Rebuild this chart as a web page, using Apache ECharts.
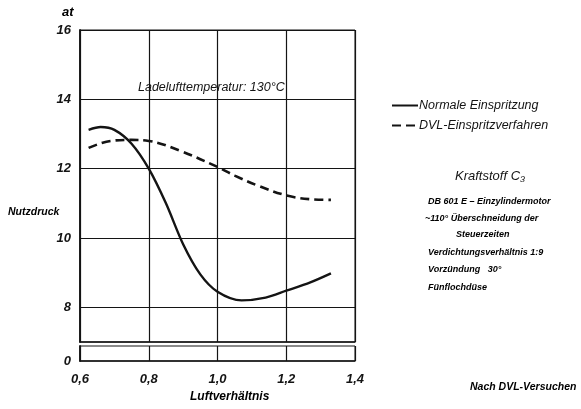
<!DOCTYPE html>
<html>
<head>
<meta charset="utf-8">
<script src="https://cdn.jsdelivr.net/npm/echarts@6/dist/echarts.min.js"></script>
<style>html,body{margin:0;padding:0;background:#fff;}#c{width:581px;height:409px;}</style>
</head>
<body>
<div id="c"></div>
<script>
// Data
const normalX = [0.625, 0.66, 0.70, 0.75, 0.80, 0.85, 0.90, 0.95, 1.00, 1.07, 1.14, 1.20, 1.27, 1.33];
const normalY = [13.12, 13.2, 13.12, 12.72, 12.0, 11.0, 9.82, 8.95, 8.45, 8.2, 8.28, 8.48, 8.72, 8.98];
const dvlX = [0.625, 0.69, 0.75, 0.80, 0.89, 1.00, 1.05, 1.12, 1.20, 1.27, 1.33];
const dvlY = [12.6, 12.8, 12.83, 12.8, 12.52, 12.05, 11.8, 11.5, 11.23, 11.12, 11.1];
const xTicks = [0.6, 0.8, 1.0, 1.2, 1.4];
const yTicks = [8, 10, 12, 14, 16];
const seriesNames = ['Normale Einspritzung', 'DVL-Einspritzverfahren'];

const FONT = 'Liberation Sans';
const ink = '#141414';
const lbl = {fontFamily: FONT, fontStyle: 'italic', fontWeight: 'bold', color: ink};

const chart = echarts.init(document.getElementById('c'));
const pairs = (xs, ys) => xs.map((x, i) => [x, ys[i]]);

chart.setOption({
  animation: false,
  backgroundColor: '#fff',
  grid: [
    {left: 80, top: 30, width: 275, height: 312, show: true, borderColor: ink, borderWidth: 1},
    {left: 80, top: 346, width: 275, height: 15, show: true, borderColor: ink, borderWidth: 1}
  ],
  xAxis: [
    {gridIndex: 0, type: 'value', min: 0.6, max: 1.4, interval: 0.2,
     axisLine: {show: true, lineStyle: {color: ink, width: 1.5}}, axisTick: {show: false}, axisLabel: {show: false},
     splitLine: {show: true, lineStyle: {color: ink, width: 1.2}}},
    {gridIndex: 1, type: 'value', min: 0.6, max: 1.4, interval: 0.2,
     axisLine: {show: true, lineStyle: {color: ink, width: 1.5}}, axisTick: {show: false},
     axisLabel: Object.assign({fontSize: 13, margin: 12,
       formatter: v => xTicks.some(t => Math.abs(t - v) < 1e-6) ? v.toFixed(1).replace('.', ',') : ''}, lbl),
     splitLine: {show: true, lineStyle: {color: ink, width: 1.2}}}
  ],
  yAxis: [
    {gridIndex: 0, type: 'value', min: 7, max: 16, interval: 1,
     axisLine: {show: true, lineStyle: {color: ink, width: 1.8}}, axisTick: {show: false},
     axisLabel: Object.assign({fontSize: 13, margin: 9,
       formatter: v => yTicks.indexOf(Math.round(v)) >= 0 && Math.abs(v - Math.round(v)) < 1e-6 ? String(Math.round(v)) : ''}, lbl),
     splitLine: {show: true, lineStyle: {color: ['rgba(0,0,0,0)', ink], width: 1.2}}},
    {gridIndex: 1, type: 'value', min: 0, max: 1, interval: 1,
     axisLine: {show: true, lineStyle: {color: ink, width: 1.8}}, axisTick: {show: false},
     axisLabel: Object.assign({fontSize: 13, margin: 9, formatter: v => v === 0 ? '0' : ''}, lbl),
     splitLine: {show: false}}
  ],
  legend: {
    orient: 'vertical', left: 386, top: 94, itemWidth: 26, itemHeight: 10, itemGap: 7,
    data: seriesNames,
    itemStyle: {opacity: 0},
    textStyle: {fontFamily: FONT, fontStyle: 'italic', fontSize: 12.5, color: ink, padding: [0, 0, 0, -4]}
  },
  series: [
    {name: seriesNames[0], type: 'line', xAxisIndex: 0, yAxisIndex: 0, smooth: 0.3, symbol: 'none',
     data: pairs(normalX, normalY), lineStyle: {color: ink, width: 2.4}, itemStyle: {color: ink}},
    {name: seriesNames[1], type: 'line', xAxisIndex: 0, yAxisIndex: 0, smooth: 0.4, symbol: 'none',
     data: pairs(dvlX, dvlY), lineStyle: {color: ink, width: 2.6, type: [9, 5]}, itemStyle: {color: ink}}
  ],
  graphic: [
    {type: 'text', left: 62, top: 6, style: Object.assign({text: 'at', fontSize: 13}, lbl)},
    {type: 'text', left: 8, top: 207, style: Object.assign({text: 'Nutzdruck', fontSize: 10.5}, lbl)},
    {type: 'text', left: 190, top: 391, style: Object.assign({text: 'Luftverhältnis', fontSize: 12}, lbl)},
    {type: 'text', left: 138, top: 81, style: {text: 'Ladelufttemperatur: 130°C', fontSize: 12.5, fontFamily: FONT, fontStyle: 'italic', fill: ink}},
    {type: 'text', left: 455, top: 170, style: {text: 'Kraftstoff C₃', fontSize: 13, fontFamily: FONT, fontStyle: 'italic', fill: ink}},
    {type: 'text', left: 428, top: 197, style: Object.assign({text: 'DB 601 E – Einzylindermotor', fontSize: 9}, lbl)},
    {type: 'text', left: 425, top: 214, style: Object.assign({text: '~110° Überschneidung der', fontSize: 9}, lbl)},
    {type: 'text', left: 456, top: 230, style: Object.assign({text: 'Steuerzeiten', fontSize: 9}, lbl)},
    {type: 'text', left: 428, top: 248, style: Object.assign({text: 'Verdichtungsverhältnis 1:9', fontSize: 9}, lbl)},
    {type: 'text', left: 428, top: 265, style: Object.assign({text: 'Vorzündung   30°', fontSize: 9}, lbl)},
    {type: 'text', left: 428, top: 283, style: Object.assign({text: 'Fünflochdüse', fontSize: 9}, lbl)},
    {type: 'text', left: 470, top: 382, style: Object.assign({text: 'Nach DVL-Versuchen', fontSize: 10.5}, lbl)}
  ]
});
</script>
</body>
</html>
